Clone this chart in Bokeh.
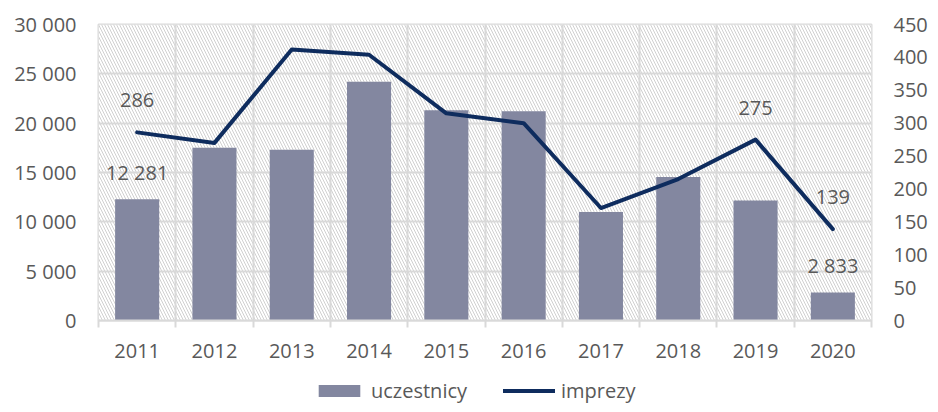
from bokeh.plotting import figure
from bokeh.layouts import column
from bokeh.models import (Range1d, LinearAxis, FixedTicker, BoxAnnotation, Legend,
                          LegendItem, ColumnDataSource)
from bokeh.core.properties import value
from bokeh.embed import file_html
from bokeh.resources import INLINE

# ---- data ----
years = ["2011", "2012", "2013", "2014", "2015", "2016", "2017", "2018", "2019", "2020"]
uczestnicy = [12281, 17500, 17300, 24200, 21300, 21200, 11000, 14550, 12150, 2833]
imprezy = [286, 270, 412, 404, 315, 300, 171, 215, 275, 139]
left_ticks = [0, 5000, 10000, 15000, 20000, 25000, 30000]
left_tick_labels = ["0", "5 000", "10 000", "15 000", "20 000", "25 000", "30 000"]
right_ticks = [0, 50, 100, 150, 200, 250, 300, 350, 400, 450]
right_tick_labels = ["0", "50", "100", "150", "200", "250", "300", "350", "400", "450"]
bar_label_years = ["2011", "2020"]
line_label_years = ["2011", "2019", "2020"]
series_names = ["uczestnicy", "imprezy"]

FONT = "Open Sans"
FS = "20px"
TXT = "#595959"
GRID = "#d9d9d9"
BAR = "#8387a0"
LINE = "#0e2c5e"

n = len(years)
xs = [i + 1 for i in range(n)]
bounds = [i + 0.5 for i in range(n + 1)]

def fmt(v):
    return f"{v:,}".replace(",", " ")

p = figure(width=930, height=376, x_range=Range1d(0.5, n + 0.5),
           y_range=Range1d(left_ticks[0], left_ticks[-1]),
           output_backend="svg", toolbar_location=None,
           min_border_left=98, min_border_right=53, min_border_top=24, min_border_bottom=56)
p.extra_y_ranges = {"imprezy": Range1d(right_ticks[0], right_ticks[-1])}
p.outline_line_color = GRID
p.outline_line_width = 2
p.background_fill_color = "white"

# hatched background
hb = BoxAnnotation(fill_color="white", fill_alpha=1, line_color=None,
                   hatch_pattern="left_diagonal_line", hatch_color="#d0d0d0",
                   hatch_scale=6, hatch_weight=1, level="image")
p.add_layout(hb)

# grids
p.xgrid.ticker = FixedTicker(ticks=bounds)
p.xgrid.grid_line_color = GRID
p.xgrid.grid_line_width = 2
p.ygrid.ticker = FixedTicker(ticks=left_ticks)
p.ygrid.grid_line_color = GRID
p.ygrid.grid_line_width = 2

src = ColumnDataSource(dict(x=xs, year=years, u=uczestnicy, im=imprezy))
bars = p.vbar(x="x", top="u", width=0.57, source=src, fill_color=BAR, line_color=None)
line = p.line(x="x", y="im", source=src, y_range_name="imprezy", line_color=LINE,
              line_width=4, line_join="round", line_cap="round")

# x axis
xa = p.xaxis[0]
xa.ticker = FixedTicker(ticks=xs, minor_ticks=bounds)
xa.major_label_overrides = {x: y for x, y in zip(xs, years)}
xa.axis_line_color = GRID
xa.axis_line_width = 2
xa.major_tick_line_color = None
xa.major_tick_out = 0
xa.minor_tick_line_color = GRID
xa.minor_tick_line_width = 2
xa.minor_tick_in = 0
xa.minor_tick_out = 7
xa.major_label_standoff = 16
xa.major_label_text_font = FONT
xa.major_label_text_font_size = FS
xa.major_label_text_color = TXT

# left axis
ya = p.yaxis[0]
ya.ticker = FixedTicker(ticks=left_ticks)
ya.major_label_overrides = {t: l for t, l in zip(left_ticks, left_tick_labels)}
ya.axis_line_color = None
ya.major_tick_line_color = None
ya.minor_tick_line_color = None
ya.major_tick_out = 0
ya.major_label_standoff = 22
ya.major_label_text_font = FONT
ya.major_label_text_font_size = FS
ya.major_label_text_color = TXT

# right axis
ra = LinearAxis(y_range_name="imprezy", ticker=FixedTicker(ticks=right_ticks))
ra.major_label_overrides = {t: l for t, l in zip(right_ticks, right_tick_labels)}
ra.axis_line_color = None
ra.major_tick_line_color = None
ra.minor_tick_line_color = None
ra.major_tick_out = 0
ra.major_label_standoff = 22
ra.major_label_text_font = FONT
ra.major_label_text_font_size = FS
ra.major_label_text_color = TXT
p.add_layout(ra, "right")

# data labels
bi = [years.index(y) for y in bar_label_years]
li = [years.index(y) for y in line_label_years]
p.text(x=[xs[i] for i in bi], y=[uczestnicy[i] for i in bi],
       text=[fmt(uczestnicy[i]) for i in bi], text_align="center", text_baseline="middle",
       y_offset=-27, text_font=value(FONT), text_font_size=FS, text_color=TXT)
p.text(x=[xs[i] for i in li], y=[imprezy[i] for i in li], y_range_name="imprezy",
       text=[fmt(imprezy[i]) for i in li], text_align="center", text_baseline="middle",
       y_offset=-32, text_font=value(FONT), text_font_size=FS, text_color=TXT)

# legend strip (proxy renderers are hidden; legend shows them un-dimmed)
p2 = figure(width=930, height=28, x_range=Range1d(0, 1), y_range=Range1d(0, 1),
            output_backend="svg", toolbar_location=None, min_border=0,
            x_axis_location=None, y_axis_location=None)
p2.grid.visible = False
p2.outline_line_color = None
lb = p2.vbar(x="x", top="u", width=0.57, source=src, fill_color=BAR, line_color=None, visible=False)
ll = p2.line(x="x", y="im", source=src, line_color=LINE, line_width=4, line_cap="round", visible=False)
legend = Legend(items=[LegendItem(label=series_names[0], renderers=[lb]),
                       LegendItem(label=series_names[1], renderers=[ll])],
                location=(215, 0), orientation="horizontal",
                glyph_width=52, glyph_height=15, label_standoff=6, spacing=36,
                padding=0, margin=0, border_line_color=None, background_fill_alpha=0,
                inactive_fill_alpha=0,
                label_text_font=FONT, label_text_font_size=FS, label_text_color=TXT)
p2.add_layout(legend, "center")

open("out.html", "w").write(file_html(column(p, p2, spacing=0), INLINE))
